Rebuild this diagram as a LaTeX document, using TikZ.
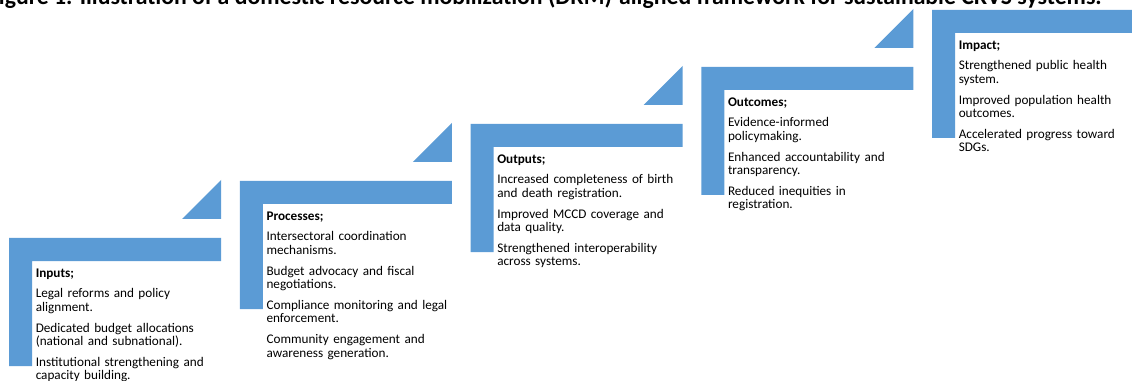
\documentclass[tikz,border=0pt]{standalone}
\usepackage{fontspec}
\setmainfont{Carlito}
\usetikzlibrary{positioning, calc}
\definecolor{stepblue}{HTML}{5B9BD5}

\begin{document}
\begin{tikzpicture}[x=0.75pt, y=-0.75pt]
\tikzset{
  step shape/.style={fill=stepblue, draw=none},
  step label/.style={
    anchor=base west,
    inner sep=0pt,
    text width=142pt,
    align=left,
    font=\fontsize{9.9}{10.3}\selectfont
  },
  fig title/.style={
    anchor=base east,
    inner sep=0pt,
    font=\fontsize{17.8}{20}\selectfont\bfseries
  }
}

\useasboundingbox (0,0) rectangle (1132,381);
\clip (0,0) rectangle (1132,381);

% steps
\foreach \i in {0,...,4}{
  \pgfmathsetmacro{\sx}{9+230.75*\i}
  \pgfmathsetmacro{\sy}{238-57*\i}
  \fill[step shape] (\sx,\sy) -- ++(212,0) -- ++(0,23) -- ++(-189,0) -- ++(0,105) -- ++(-23,0) -- cycle;
  \fill[step shape] (\sx+173,\sy-19) -- ++(39,0) -- ++(0,-39) -- cycle;
  \coordinate (txt\i) at (\sx+26.5,\sy+39.5);
}

\node[fig title] (caption) at (1102,5) {Figure 1. Illustration of a domestic resource mobilization (DRM)-aligned framework for sustainable CRVS systems.};

\node[step label] (inputs) at (txt0) {\textbf{Inputs;}\\[5pt]
Legal reforms and policy\\ alignment.\\[5pt]
Dedicated budget allocations\\ (national and subnational).\\[5pt]
Institutional strengthening and\\ capacity building.};

\node[step label] (processes) at (txt1) {\textbf{Processes;}\\[5pt]
Intersectoral coordination\\ mechanisms.\\[5pt]
Budget advocacy and fiscal\\ negotiations.\\[5pt]
Compliance monitoring and legal\\ enforcement.\\[5pt]
Community engagement and\\ awareness generation.};

\node[step label] (outputs) at (txt2) {\textbf{Outputs;}\\[5pt]
Increased completeness of birth\\ and death registration.\\[5pt]
Improved MCCD coverage and\\ data quality.\\[5pt]
Strengthened interoperability\\ across systems.};

\node[step label] (outcomes) at (txt3) {\textbf{Outcomes;}\\[5pt]
Evidence-informed\\ policymaking.\\[5pt]
Enhanced accountability and\\ transparency.\\[5pt]
Reduced inequities in\\ registration.};

\node[step label] (impact) at (txt4) {\textbf{Impact;}\\[5pt]
Strengthened public health\\ system.\\[5pt]
Improved population health\\ outcomes.\\[5pt]
Accelerated progress toward\\ SDGs.};

\end{tikzpicture}
\end{document}
